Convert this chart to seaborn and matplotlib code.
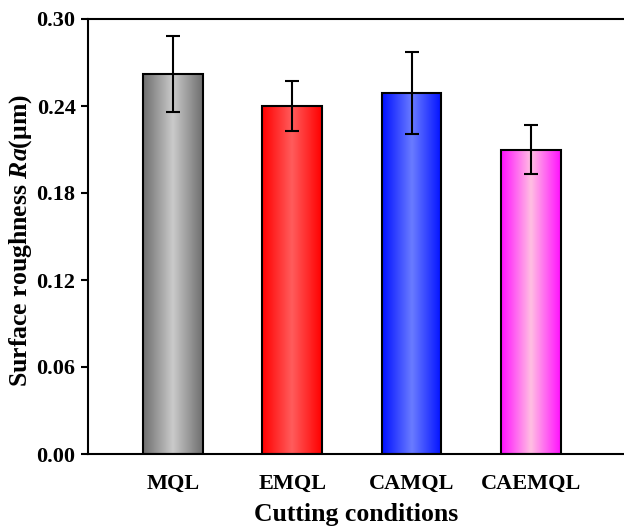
import numpy as np
import matplotlib
matplotlib.use("Agg")
import matplotlib.pyplot as plt
from matplotlib.colors import LinearSegmentedColormap
import seaborn as sns
import pandas as pd

conditions = ["MQL", "EMQL", "CAMQL", "CAEMQL"]
roughness = [0.262, 0.240, 0.249, 0.210]
roughness_err = [0.026, 0.017, 0.028, 0.017]
edge_colors = ["#6e6e6e", "#ff0000", "#0010ff", "#ff10ff"]
center_colors = ["#cacaca", "#ff5c5c", "#6a7cff", "#ffbfe2"]
yticks = [0.00, 0.06, 0.12, 0.18, 0.24, 0.30]

sns.set_style("white")
plt.rcParams['font.family'] = ['Liberation Serif', 'DejaVu Serif']
plt.rcParams['font.weight'] = 'bold'
plt.rcParams['text.color'] = 'black'
plt.rcParams['axes.labelcolor'] = 'black'
plt.rcParams['xtick.color'] = 'black'
plt.rcParams['ytick.color'] = 'black'
plt.rcParams['mathtext.fontset'] = 'custom'
plt.rcParams['mathtext.it'] = 'Liberation Serif:italic:bold'
plt.rcParams['mathtext.rm'] = 'Liberation Serif:bold'

df = pd.DataFrame({"condition": conditions, "roughness": roughness})

fig = plt.figure(figsize=(6.24, 5.28), dpi=100)
ax = fig.add_axes([88 / 624, 74 / 528, 1 - 88 / 624, 435 / 528])

sns.barplot(data=df, x="condition", y="roughness", hue="condition",
            palette=edge_colors, legend=False, width=0.5, errorbar=None,
            edgecolor="black", linewidth=1.5, ax=ax, zorder=2)

# horizontal gradient fill clipped to each bar
for patch, c_edge, c_mid in zip(ax.patches, edge_colors, center_colors):
    cmap = LinearSegmentedColormap.from_list("g", [c_edge, c_mid, c_edge])
    x0, y0 = patch.get_x(), patch.get_y()
    w, h = patch.get_width(), patch.get_height()
    grad = np.linspace(0, 1, 256).reshape(1, -1)
    im = ax.imshow(grad, cmap=cmap, aspect="auto", extent=[x0, x0 + w, y0, y0 + h],
                   zorder=2.5, interpolation="bicubic")
    im.set_clip_path(patch)
    patch.set_facecolor("none")
    patch.set_zorder(3)

ax.errorbar(x=np.arange(len(conditions)), y=roughness, yerr=roughness_err,
            fmt="none", ecolor="black", elinewidth=1.5, capsize=5, capthick=1.5, zorder=4)

ax.set_xlim(-0.71, 3.78)
ax.set_ylim(0, 0.30)
ax.set_yticks(yticks)
ax.set_yticklabels([f"{t:.2f}" for t in yticks])
ax.tick_params(axis="y", direction="out", length=5, width=1.5, labelsize=16, left=True, pad=4)
ax.tick_params(axis="x", length=0, labelsize=16, pad=14)
for lab in ax.get_xticklabels() + ax.get_yticklabels():
    lab.set_fontweight("bold")

for s in ["left", "bottom", "top"]:
    ax.spines[s].set_linewidth(1.5)
    ax.spines[s].set_color("black")
ax.spines["right"].set_visible(False)

ax.set_xlabel("Cutting conditions", fontsize=18.5, fontweight="bold", labelpad=7)
ax.set_ylabel(r"Surface roughness $\mathit{Ra}$(μm)", fontsize=18.5, fontweight="bold")
ax.yaxis.set_label_coords(-0.1, 0.49)

fig.savefig("out.png", dpi=100)
